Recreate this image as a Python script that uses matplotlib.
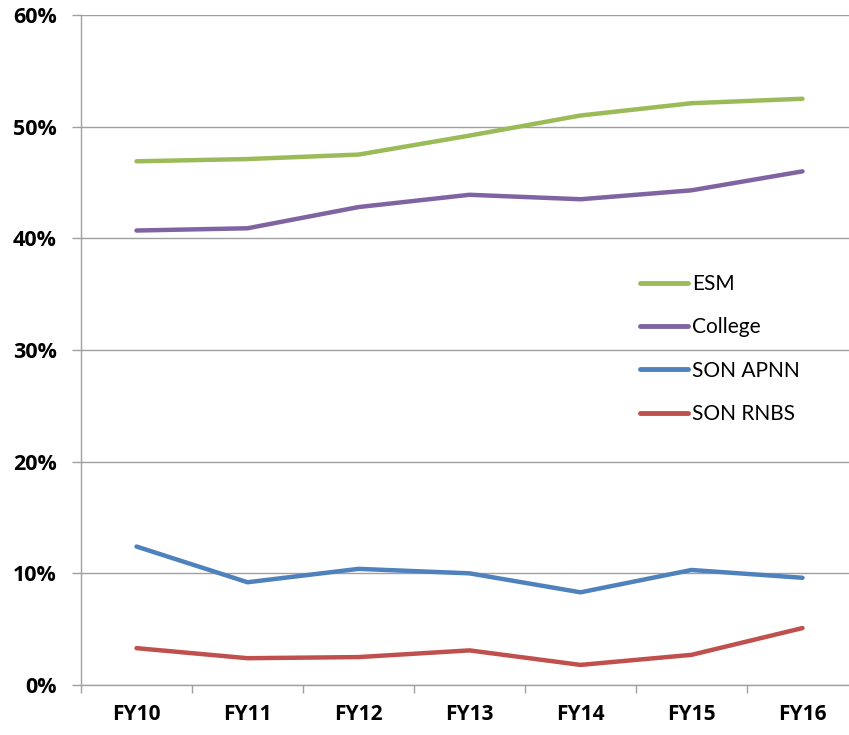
import matplotlib
matplotlib.use("Agg")
import matplotlib.pyplot as plt
from matplotlib.ticker import FuncFormatter, FixedLocator

categories = ["FY10", "FY11", "FY12", "FY13", "FY14", "FY15", "FY16"]
esm = [46.9, 47.1, 47.5, 49.2, 51.0, 52.1, 52.5]
college = [40.7, 40.9, 42.8, 43.9, 43.5, 44.3, 46.0]
son_apnn = [12.4, 9.2, 10.4, 10.0, 8.3, 10.3, 9.6]
son_rnbs = [3.3, 2.4, 2.5, 3.1, 1.8, 2.7, 5.1]
series_names = ["ESM", "College", "SON APNN", "SON RNBS"]
colors = ["#9BBB59", "#8064A2", "#4F81BD", "#C0504D"]

plt.rcParams['font.family'] = ['Lato', 'DejaVu Sans']

W, H = 849, 735
fig = plt.figure(figsize=(W/100, H/100), dpi=100)
left, right, top, bottom = 81, 858, 15, 685
ax = fig.add_axes([left/W, 1 - bottom/H, (right-left)/W, (bottom-top)/H])

x = list(range(len(categories)))
for vals, name, c in zip([esm, college, son_apnn, son_rnbs], series_names, colors):
    ax.plot(x, vals, color=c, lw=3.2, label=name, solid_capstyle='round', solid_joinstyle='round')

ax.set_xlim(-0.5, len(categories) - 0.5)
ax.set_ylim(0, 60)
ax.set_yticks(range(0, 61, 10))
ax.set_yticklabels([f"{v}%" for v in range(0, 61, 10)], family=['Open Sans', 'DejaVu Sans'],
                   fontweight='bold', fontsize=15.5)
ax.grid(axis='y', color='#A0A0A0', lw=1.0)
ax.set_axisbelow(True)

ax.set_xticks(x)
ax.set_xticklabels(categories, family=['Open Sans', 'DejaVu Sans'], fontweight='bold', fontsize=15)
ax.xaxis.set_minor_locator(FixedLocator([i - 0.5 for i in range(len(categories) + 1)]))
ax.tick_params(axis='x', which='major', length=0, pad=14)
ax.tick_params(axis='x', which='minor', length=6, color='#A0A0A0', width=1)
ax.tick_params(axis='y', length=6.5, color='#A0A0A0', width=1, pad=11)

for s in ['top', 'right']:
    ax.spines[s].set_visible(False)
ax.spines['left'].set_color('#A0A0A0')
ax.spines['bottom'].set_color('#A0A0A0')
ax.spines['left'].set_linewidth(1)
ax.spines['bottom'].set_linewidth(1)

leg = ax.legend(loc='upper left', bbox_to_anchor=(640/W, 1 - 274/H), bbox_transform=fig.transFigure,
                frameon=False, fontsize=15, handlelength=2.3, handletextpad=0.2,
                labelspacing=1.12, borderpad=0, borderaxespad=0)
for line in leg.get_lines():
    line.set_linewidth(3.5)

fig.savefig("out.png", dpi=100)
